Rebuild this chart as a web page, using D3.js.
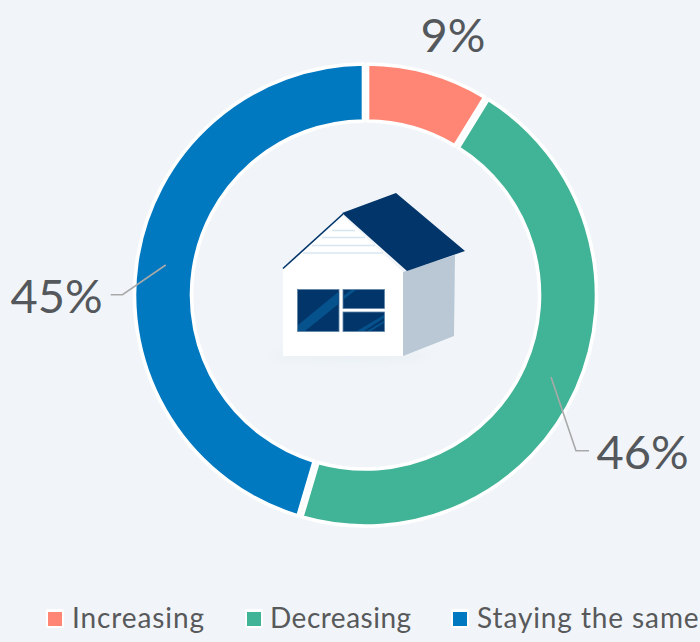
<!DOCTYPE html>
<html>
<head>
<meta charset="utf-8">
<script src="https://cdn.jsdelivr.net/npm/d3@7/dist/d3.min.js"></script>
<style>
html,body{margin:0;padding:0;background:#f1f5f9;}
svg{display:block;}
text{font-family:Lato,"Open Sans",sans-serif;}
</style>
</head>
<body>
<svg id="chart" width="700" height="642"></svg>
<script>
const categories = ["Increasing", "Decreasing", "Staying the same"];
const values = [8.6, 45.9, 45.5];
const labels = ["9%", "46%", "45%"];
const colors = ["#ff8574", "#41b396", "#0079c1"];

const W = 700, H = 642, cx = 365.5, cy = 295, rOuter = 231, rInner = 174;
const svg = d3.select("#chart");
const color = d3.scaleOrdinal(categories, colors);
const pie = d3.pie().sort(null).padAngle(0.014).value((d, i) => values[i]);
const arc = d3.arc().innerRadius(rInner).outerRadius(rOuter);

svg.append("rect").attr("width", W).attr("height", H).attr("fill", "#f1f5f9");

const defs = svg.append("defs");
defs.append("filter").attr("id", "soft").attr("x", "-30%").attr("y", "-200%").attr("width", "160%").attr("height", "500%")
  .append("feGaussianBlur").attr("stdDeviation", 5);

const ring = svg.append("g").attr("transform", `translate(${cx},${cy})`);
ring.selectAll("path").data(pie(categories)).join("path")
  .attr("d", arc)
  .attr("fill", (d, i) => color(categories[i]))
  .attr("stroke", "#ffffff")
  .attr("stroke-width", 3.6)
  .attr("stroke-linejoin", "round");

// leader lines
const leaderLines = [
  [[551, 377], [576, 450.7], [589, 450.7]],
  [[165.7, 265], [122.5, 294.7], [110.7, 294.7]]
];
svg.append("g").selectAll("path").data(leaderLines).join("path")
  .attr("d", d3.line())
  .attr("fill", "none").attr("stroke", "#a9a9a9").attr("stroke-width", 1.6);

// value labels
const labelAnchors = [[453, 52], [642.5, 469], [56.5, 313]];
svg.append("g").selectAll("text").data(labels).join("text")
  .attr("x", (d, i) => labelAnchors[i][0])
  .attr("y", (d, i) => labelAnchors[i][1])
  .attr("text-anchor", "middle")
  .attr("font-size", 47)
  .attr("fill", "#54585c")
  .text(d => d);

// house illustration
const house = svg.append("g");
const poly = (pts, fill) => house.append("polygon").attr("points", pts.map(p => p.join(",")).join(" ")).attr("fill", fill);
house.append("ellipse").attr("cx", 350).attr("cy", 356).attr("rx", 80).attr("ry", 4)
  .attr("fill", "#dfe7ef").attr("opacity", 0.5).attr("filter", "url(#soft)");
poly([[343,216],[283,268],[283,356],[403,356],[403,272]], "#ffffff");
poly([[403,272],[455,255],[454,336],[403,356]], "#b9c8d4");
[[332,355,230.5],[322,365,237.5],[312,375,245.5],[303,383,253]].forEach(s => {
  house.append("line").attr("x1", s[0]).attr("x2", s[1]).attr("y1", s[2]).attr("y2", s[2])
    .attr("stroke", "#d8e6f2").attr("stroke-width", 1.6);
});
house.append("line").attr("x1", 283).attr("y1", 268.5).attr("x2", 343).attr("y2", 214)
  .attr("stroke", "#02366b").attr("stroke-width", 1.6);
poly([[342,213],[396,193],[465,251],[407,271]], "#02366b");
[[297.5,289.5,41.5,42],[343,289.5,41.5,19],[343,312,41.5,19.5]].forEach(r => {
  house.append("rect").attr("x", r[0]).attr("y", r[1]).attr("width", r[2]).attr("height", r[3])
    .attr("fill", "#02366b").attr("stroke", "#5f83a6").attr("stroke-width", 0.8);
});
poly([[298,325],[337,293],[338.5,293],[338.5,304],[305,331],[298,331]], "#05528c");
poly([[343.5,296],[351,290],[356,290],[344,299]], "#05528c");
poly([[357,331],[384,315],[384,318],[364,331]], "#05528c");
poly([[367,331],[384,321],[384,323],[371,331]], "#05528c");

// legend
const legendSwatch = [46, 245, 451];
const legendText = [72, 270, 477];
const legendSpacing = [0.9, 0.5, 0.9];
const legend = svg.append("g");
categories.forEach((c, i) => {
  legend.append("rect").attr("x", legendSwatch[i]).attr("y", 609).attr("width", 18).attr("height", 19).attr("rx", 2).attr("fill", "#ffffff");
  legend.append("rect").attr("x", legendSwatch[i] + 2).attr("y", 612).attr("width", 14).attr("height", 14).attr("fill", color(c));
  legend.append("text").attr("x", legendText[i]).attr("y", 628)
    .attr("font-size", 28).attr("letter-spacing", legendSpacing[i]).attr("fill", "#58595b").text(c);
});
</script>
</body>
</html>
